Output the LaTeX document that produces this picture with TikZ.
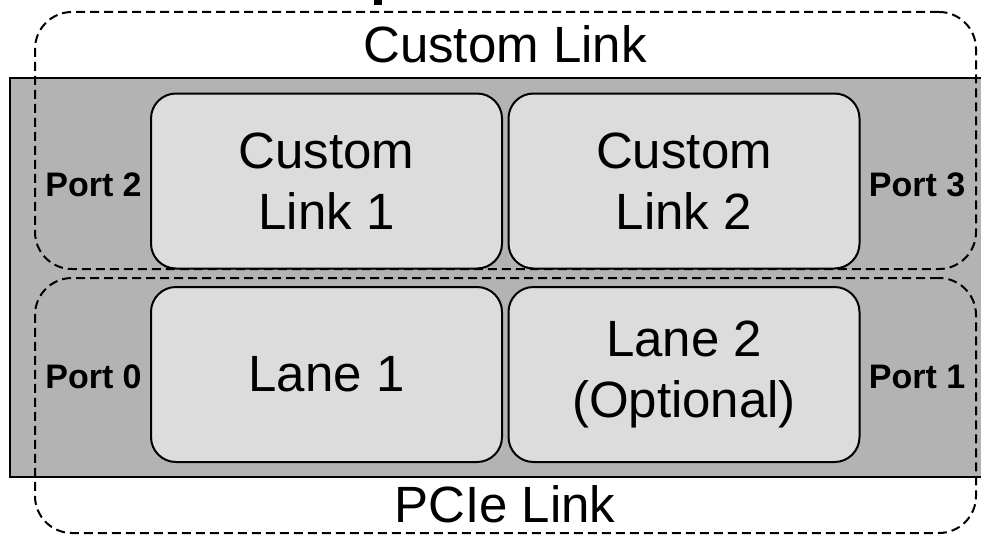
\documentclass[tikz,border=0pt]{standalone}
\usepackage{fontspec}
\setmainfont{Liberation Sans}
\begin{document}
\begin{tikzpicture}[x=1pt,y=-1pt,
  chipbody/.style={draw=black, line width=2pt, fill=chipgray, rectangle, inner sep=0pt},
  linkzone/.style={draw=black, line width=2pt, dash pattern=on 9pt off 5pt, rounded corners=37pt, rectangle, inner sep=0pt},
  lanebox/.style={draw=black, line width=2pt, fill=lanegray, rectangle, rounded corners=25pt,
    minimum width=351pt, minimum height=175pt, inner sep=0pt, align=center,
    font=\fontsize{51}{61}\selectfont},
  portlabel/.style={font=\fontsize{34}{40}\selectfont\bfseries, anchor=base, inner sep=0pt},
  biglabel/.style={font=\fontsize{51}{61}\selectfont, anchor=base, inner sep=0pt}
]
\definecolor{chipgray}{RGB}{179,179,179}
\definecolor{lanegray}{RGB}{220,220,220}
\useasboundingbox (0,0) rectangle (981,535);

% chip body
\node[chipbody, minimum width=972pt, minimum height=399pt] (chip) at (496,277.5) {};

% the four lane boxes
\node[lanebox] (cl1) at (326.5,181) {Custom\\Link 1};
\node[lanebox] (cl2) at (684,181) {Custom\\Link 2};
\node[lanebox] (ln1) at (326.5,374.5) {Lane 1};
\node[lanebox] (ln2) at (684,374.5) {Lane 2\\(Optional)};

% dashed link groupings
\node[linkzone, minimum width=941pt, minimum height=257pt] (custom) at (505.5,140.5) {};
\node[linkzone, minimum width=941pt, minimum height=255pt] (pcie) at (505.5,405.5) {};

% link titles
\node[biglabel] (customtitle) at (505,63) {Custom Link};
\node[biglabel] (pcietitle) at (505,522) {PCIe Link};

% port labels
\node[portlabel] (p2) at (93.5,196) {Port 2};
\node[portlabel] (p3) at (917,196) {Port 3};
\node[portlabel] (p0) at (93.5,388.5) {Port 0};
\node[portlabel] (p1) at (917,388.5) {Port 1};

% stroke reaching in from the top edge
\fill[black] (373.5,0) rectangle (381.5,5);
\end{tikzpicture}
\end{document}
